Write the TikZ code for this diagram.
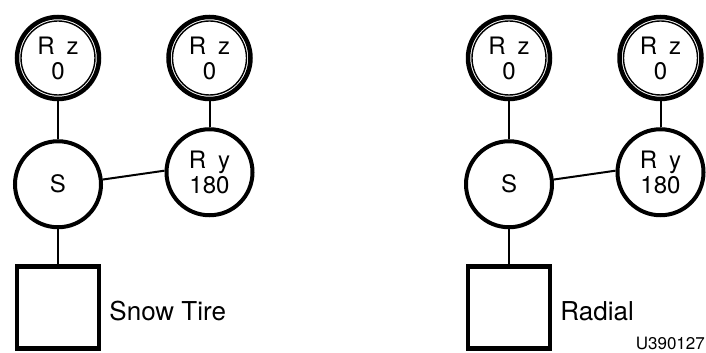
\documentclass[tikz,border=0pt]{standalone}
\usepackage{fontspec}
\setmainfont{TeX Gyre Heros}
\usetikzlibrary{positioning}

\begin{document}
\begin{tikzpicture}[
  x=1pt, y=1pt,
  font=\fontsize{24}{25}\selectfont,
  rotz/.style={draw, circle, line width=4.5pt, minimum size=82pt,
               align=center, inner sep=0pt},
  rotring/.style={line width=1.4pt},
  joint/.style={draw, circle, line width=4pt, minimum size=86pt,
                align=center, inner sep=0pt},
  leaf/.style={draw, rectangle, line width=4.5pt, minimum size=82pt},
  tag/.style={font=\fontsize{26}{28}\selectfont, inner sep=0pt},
  figid/.style={font=\fontsize{17}{19}\selectfont, inner sep=0pt},
  link/.style={line width=2pt},
]
  \useasboundingbox (0,0) rectangle (706,353);

  % left tree
  \node[rotz] (zs1) at (58,295) {R\enspace z\\ 0};
  \node[joint, below=38pt of zs1] (s1) {S};
  \node[leaf, below=35pt of s1] (t1) {};
  \node[rotz, right=65pt of zs1] (zy1) {R\enspace z\\ 0};
  \node[joint, below=26pt of zy1] (y1) {R\enspace y\\ 180};
  \node[tag, right=8pt of t1, yshift=-4pt] (n1) {Snow Tire};

  % right tree
  \node[rotz] (zs2) at (509,295) {R\enspace z\\ 0};
  \node[joint, below=38pt of zs2] (s2) {S};
  \node[leaf, below=35pt of s2] (t2) {};
  \node[rotz, right=65pt of zs2] (zy2) {R\enspace z\\ 0};
  \node[joint, below=26pt of zy2] (y2) {R\enspace y\\ 180};
  \node[tag, right=8pt of t2, yshift=-4pt] (n2) {Radial};

  \node[figid, anchor=base east] (id) at (705,3) {U390127};

  \foreach \n in {zs1, zy1, zs2, zy2}
    \draw[rotring] (\n.center) circle[radius=37];

  \draw[link] (zs1) -- (s1); \draw[link] (zy1) -- (y1);
  \draw[link] (s1.6) -- (y1.178); \draw[link] (s1) -- (t1);
  \draw[link] (zs2) -- (s2); \draw[link] (zy2) -- (y2);
  \draw[link] (s2.6) -- (y2.178); \draw[link] (s2) -- (t2);
\end{tikzpicture}
\end{document}
